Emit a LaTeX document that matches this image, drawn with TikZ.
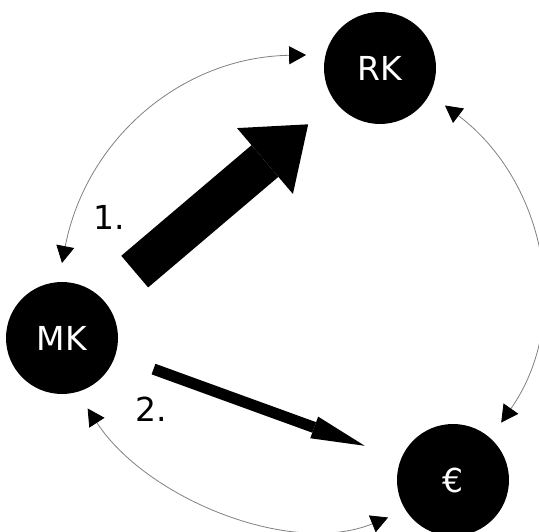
\documentclass[tikz,border=0pt]{standalone}
\usepackage{fontspec}
\setmainfont{DejaVu Sans}
\usetikzlibrary{arrows.meta,calc}
\begin{document}
\begin{tikzpicture}[x=1pt,y=1pt,
  hub/.style={circle, fill=black, text=white, minimum size=112pt, inner sep=0pt,
    outer sep=19pt, font=\fontsize{33}{33}\selectfont},
  steplabel/.style={inner sep=0pt, anchor=base west, font=\fontsize{33}{33}\selectfont},
  ring/.style={draw=black!50, line width=0.8pt, {Triangle[length=17pt,width=18pt,color=black]}-{Triangle[length=17pt,width=18pt,color=black]}},
  bigflow/.style={line width=41.5pt, -{Triangle[length=56.7pt,width=86.4pt,line width=0pt]}},
  smallflow/.style={line width=11.2pt, -{Triangle[length=53.7pt,width=23pt,line width=0pt]}}
]
\useasboundingbox (0,0) rectangle (539,-532);

% the three circles
\node[hub] (MK)  at (62,-338) {MK};
\node[hub] (RK)  at (380,-68) {RK};
\node[hub] (EUR) at (453,-480) {€};

% thin two-headed arcs around the triangle
\draw[ring] (MK.90) to[out=79, in=181] (RK.170);
\draw[ring] (RK.330) to[out=-37, in=55] (EUR.50);
\draw[ring] (MK.290) to[out=-57, in=202, looseness=0.85] (EUR.210);

% step 1: broad arrow MK -> RK
\draw[bigflow, shorten <=98.4pt, shorten >=91.2pt]
  ($(MK.center)+(-2.3,2.7)$) -- ($(RK.center)+(-2.3,2.7)$);
% step 2: slim arrow MK -> EUR
\draw[smallflow, shorten <=96.6pt, shorten >=94.7pt]
  ($(MK.center)+(0.7,1.9)$) -- ($(EUR.center)+(0.7,1.9)$);

% step numbers
\node[steplabel] (s1) at (93,-230) {1.};
\node[steplabel] (s2) at (135.5,-421.7) {2.};
\end{tikzpicture}
\end{document}
